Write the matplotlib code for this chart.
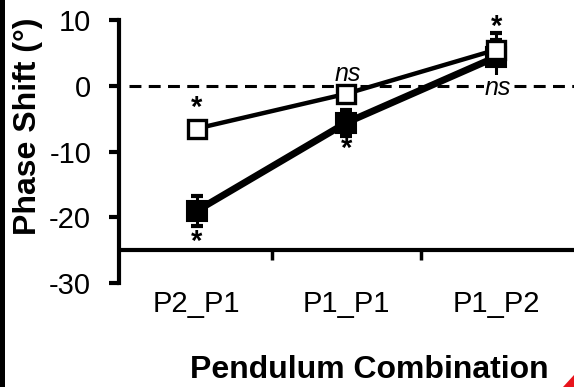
import matplotlib
matplotlib.use("Agg")
import matplotlib.pyplot as plt
import matplotlib.patches as mpatches

plt.rcParams['font.family'] = ['Liberation Sans', 'DejaVu Sans']
plt.rcParams['axes.unicode_minus'] = False

# data
combos = ['P2_P1', 'P1_P1', 'P1_P2']
filled_mean = [-19.0, -5.6, 4.4]
filled_err = [2.3, 2.0, 3.6]
open_mean = [-6.5, -1.2, 5.5]
open_err = [1.0, 0.8, 1.5]
# significance marks: (x index, y value, text)
filled_marks = [(0, -23.7, '*'), (1, -9.6, '*')]
open_marks = [(0, -3.4, '*'), (1, 1.8, 'ns'), (2, 8.9, '*'), (2, -0.3, 'ns')]

fig = plt.figure(figsize=(5.74, 3.87), dpi=100)
ax = fig.add_axes([0.2073, 0.2687, 0.7927, 0.6793])
x = list(range(len(combos)))

# dashed zero line
ax.plot([-0.45, 2.6], [0, 0], color='black', lw=2.2, linestyle=(0, (3.9, 2.4)),
        zorder=1, clip_on=False)

# filled series
ax.errorbar(x, filled_mean, yerr=filled_err, fmt='none', ecolor='black',
            elinewidth=2.2, capsize=4, capthick=3, zorder=2)
ax.plot(x, filled_mean, color='black', lw=5, zorder=3,
        solid_capstyle='round')
ax.plot(x, filled_mean, 's', color='black', markersize=15,
        markeredgewidth=1.5, zorder=4)

# open series
ax.errorbar(x, open_mean, yerr=open_err, fmt='none', ecolor='black',
            elinewidth=2.2, capsize=4, capthick=3, zorder=5)
ax.plot(x, open_mean, color='black', lw=3.2, zorder=5)
ax.plot(x, open_mean, 's', markerfacecolor='white', markeredgecolor='black',
        markersize=12.5, markeredgewidth=2.4, zorder=6)

for i, y, t in filled_marks + open_marks:
    if t == '*':
        ax.text(i, y, t, ha='center', va='center', fontsize=21,
                fontweight='bold', zorder=7)
    else:
        ax.text(i + 0.01, y, t, ha='center', va='center', fontsize=18,
                style='italic', zorder=7,
                bbox=dict(facecolor='white', edgecolor='none', pad=0.5) if y < 1 else None)

ax.set_xlim(-0.52, 2.52)
ax.set_ylim(-30, 10)

for side in ['top', 'right']:
    ax.spines[side].set_visible(False)
ax.spines['left'].set_linewidth(3)
ax.spines['left'].set_bounds(-30, 10)
ax.spines['bottom'].set_position(('data', -25))
ax.spines['bottom'].set_linewidth(3)
ax.spines['bottom'].set_bounds(-0.49, 2.52)

ax.set_yticks([-30, -20, -10, 0, 10])
ax.tick_params(axis='y', direction='out', length=7, width=3, labelsize=21, pad=13)

ax.set_xticks([0.5, 1.5])
ax.set_xticklabels([])
ax.tick_params(axis='x', which='major', direction='out', length=7, width=2.5)
ax.set_xticks(x, minor=True)
ax.set_xticklabels(combos, minor=True)
ax.tick_params(axis='x', which='minor', length=0, labelsize=21, pad=29)

ax.patch.set_visible(False)

fig.text(0.049, 0.675, 'Phase Shift (°)', rotation=90, ha='center', va='center',
         fontsize=23, fontweight='bold')
fig.text(0.643, 0.045, 'Pendulum Combination', ha='center', va='center',
         fontsize=23, fontweight='bold')

# scan artefacts at the edges
fig.patches.append(mpatches.Rectangle((0, 0), 5 / 574, 1, transform=fig.transFigure,
                                      facecolor='black', edgecolor='none'))
fig.patches.append(mpatches.Polygon([(563 / 574, 0), (1, 0), (1, 12 / 387)],
                                    closed=True, transform=fig.transFigure,
                                    facecolor='#e8141c', edgecolor='none'))

fig.savefig('out.png', dpi=100)
